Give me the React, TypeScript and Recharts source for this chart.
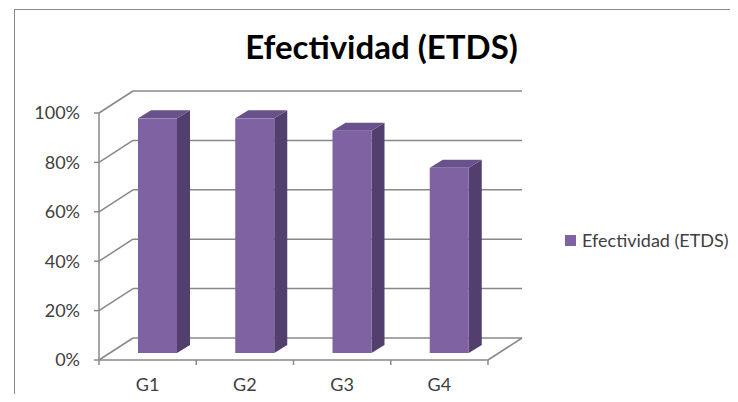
import React from 'react';
import { BarChart, Bar, XAxis, YAxis, CartesianGrid, Legend } from 'recharts';

const categories = ['G1', 'G2', 'G3', 'G4'];
const efectividad = [0.95, 0.95, 0.9, 0.75];
const yTicks = [0, 0.2, 0.4, 0.6, 0.8, 1];
const seriesName = 'Efectividad (ETDS)';

const data = categories.map((name, i) => ({ name, value: efectividad[i] }));

// chart geometry
const W = 738;
const H = 402;
const MARGIN = { top: 113, right: 250, bottom: 0, left: 0 };
const Y_AXIS_W = 99;
const X_AXIS_H = 42;
const PLOT_W = W - MARGIN.left - MARGIN.right - Y_AXIS_W;
const AXIS_Y = H - X_AXIS_H;
const BAND = PLOT_W / categories.length;

// wall depth (back wall offset) and bar depth
const WALL_DX = 34;
const WALL_DY = 22;
const BAR_SHIFT_X = 10;
const BAR_SHIFT_Y = 7;
const BAR_DX = 13;
const BAR_DY = 8;

const GRID = '#888888';
const TEXT = '#404040';
const FONT = 'Lato, "Open Sans", sans-serif';

const FRONT = '#7F62A1';
const SIDE = '#523F6E';
const TOP = '#68528C';

const Bar3D = (props: any) => {
  const { x, y, width, height } = props;
  const fx = x + BAR_SHIFT_X;
  const fy = y - BAR_SHIFT_Y;
  const bottom = fy + height;
  return (
    <g>
      <polygon
        points={`${fx + width},${fy} ${fx + width + BAR_DX},${fy - BAR_DY} ${fx + width + BAR_DX},${bottom - BAR_DY} ${fx + width},${bottom}`}
        fill={SIDE}
      />
      <polygon
        points={`${fx},${fy} ${fx + BAR_DX},${fy - BAR_DY} ${fx + width + BAR_DX},${fy - BAR_DY} ${fx + width},${fy}`}
        fill={TOP}
      />
      <rect x={fx} y={fy} width={width} height={height} fill={FRONT} />
    </g>
  );
};

// each horizontal gridline becomes a side-wall diagonal plus a back-wall line
const gridLine = (props: any) => {
  const { x1, y1, x2, index } = props;
  const isFloor = Math.abs(y1 - AXIS_Y) < 1;
  return (
    <g key={`grid-${index}`} stroke={GRID} strokeWidth={1.5} fill="none">
      <line x1={x1} y1={y1} x2={x1 + WALL_DX} y2={y1 - WALL_DY} />
      <line x1={x1 + WALL_DX} y1={y1 - WALL_DY} x2={x2 + WALL_DX} y2={y1 - WALL_DY} />
      {isFloor && <line x1={x2} y1={y1} x2={x2 + WALL_DX} y2={y1 - WALL_DY} />}
    </g>
  );
};

const CategoryTick = (props: any) => {
  const { x, payload, index } = props;
  const left = x - BAND / 2;
  const right = x + BAND / 2;
  return (
    <g>
      <line x1={left} y1={AXIS_Y} x2={left} y2={AXIS_Y + 5} stroke={GRID} strokeWidth={1.5} />
      {index === categories.length - 1 && (
        <line x1={right} y1={AXIS_Y} x2={right} y2={AXIS_Y + 5} stroke={GRID} strokeWidth={1.5} />
      )}
      <text x={x} y={AXIS_Y + 24} textAnchor="middle" dominantBaseline="central" fill={TEXT} fontSize={18} fontFamily={FONT}>
        {payload.value}
      </text>
    </g>
  );
};

const LegendContent = (props: any) => {
  const { payload } = props;
  return (
    <div>
      {(payload || []).map((entry: any) => (
        <div key={entry.value} style={{ display: 'flex', alignItems: 'center', fontFamily: FONT, fontSize: 18, color: TEXT, whiteSpace: 'nowrap' }}>
          <span style={{ display: 'inline-block', width: 11, height: 11, background: FRONT, marginRight: 6 }} />
          {entry.value}
        </div>
      ))}
    </div>
  );
};

export default function App() {
  return (
    <div style={{ position: 'relative', width: W, height: H, margin: -8, background: '#fff', overflow: 'hidden' }}>
      <div
        style={{
          position: 'absolute',
          left: 14,
          top: 9,
          right: -2,
          bottom: -2,
          borderLeft: '1.5px solid #8a8a8a',
          borderTop: '1.5px solid #8a8a8a',
        }}
      />
      <div
        style={{
          position: 'absolute',
          left: 0,
          width: 763,
          top: 26,
          textAlign: 'center',
          fontFamily: FONT,
          fontWeight: 700,
          fontSize: 33,
          lineHeight: '40px',
          color: '#000',
        }}
      >
        {seriesName}
      </div>
      <div style={{ position: 'absolute', left: 0, top: 0 }}>
        <BarChart width={W} height={H} data={data} margin={MARGIN} barSize={39}>
          <CartesianGrid vertical={false} horizontal={gridLine} />
          <XAxis
            dataKey="name"
            height={X_AXIS_H}
            axisLine={{ stroke: GRID, strokeWidth: 1.5 }}
            tickLine={false}
            tick={<CategoryTick />}
            interval={0}
          />
          <YAxis
            width={Y_AXIS_W}
            domain={[0, 1]}
            ticks={yTicks}
            tickFormatter={(v: number) => `${Math.round(v * 100)}%`}
            axisLine={{ stroke: GRID, strokeWidth: 1.5 }}
            tickLine={{ stroke: GRID, strokeWidth: 1.5 }}
            tickSize={5}
            tickMargin={14}
            tick={{ fill: TEXT, fontSize: 18, fontFamily: FONT }}
          />
          <Legend
            layout="horizontal"
            verticalAlign="middle"
            align="center"
            wrapperStyle={{ left: 565, top: 229, width: 190 }}
            content={<LegendContent />}
          />
          <Bar dataKey="value" name={seriesName} fill={FRONT} shape={<Bar3D />} isAnimationActive={false} />
        </BarChart>
      </div>
    </div>
  );
}
